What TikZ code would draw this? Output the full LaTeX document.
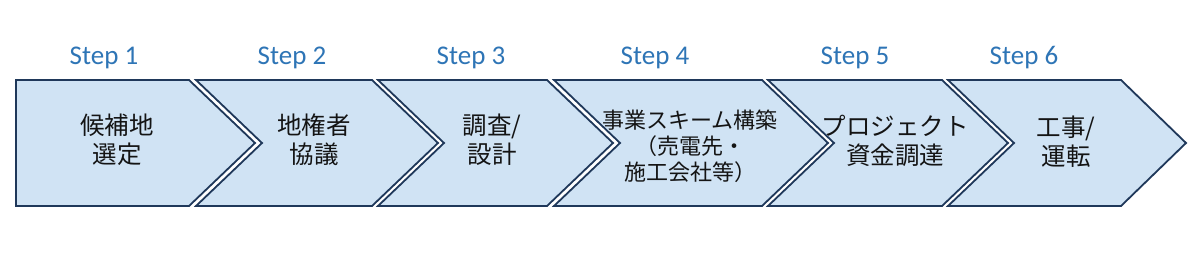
\documentclass[tikz,border=0pt]{standalone}
\usepackage{fontspec}
\newfontfamily\stepfont{Carlito}
\newfontfamily\jpfont{Noto Sans CJK JP}
\definecolor{chfill}{RGB}{208,227,244}
\definecolor{chline}{RGB}{31,56,90}
\definecolor{stepblue}{RGB}{46,117,182}
\definecolor{jptext}{RGB}{20,20,20}
\tikzset{
  chevronbox/.style={fill=chfill, draw=chline, line width=1.8pt, line join=miter},
  steplabel/.style={anchor=base, inner sep=0pt, text=stepblue, font=\stepfont\fontsize{27}{31}\selectfont},
  jplabel/.style={anchor=center, inner sep=0pt, align=center, text=jptext, font=\jpfont\fontsize{24.5}{29}\selectfont},
  jpsmall/.style={anchor=center, inner sep=0pt, align=center, text=jptext, font=\jpfont\fontsize{22}{26}\selectfont},
}
\begin{document}
\begin{tikzpicture}[x=1pt,y=-1pt]
\useasboundingbox (0,0) rectangle (1200,280);
\fill[white] (0,0) rectangle (1200,280);
% chevrons
\draw[chevronbox] (16,80) -- (189,80) -- (255,143) -- (189,206) -- (16,206) -- cycle;
\draw[chevronbox] (196,80) -- (372,80) -- (438,143) -- (372,206) -- (196,206) -- (262,143) -- cycle;
\draw[chevronbox] (378,80) -- (547,80) -- (613,143) -- (547,206) -- (378,206) -- (444,143) -- cycle;
\draw[chevronbox] (554,80) -- (762,80) -- (828,143) -- (762,206) -- (554,206) -- (620,143) -- cycle;
\draw[chevronbox] (768,80) -- (942,80) -- (1008,143) -- (942,206) -- (768,206) -- (834,143) -- cycle;
\draw[chevronbox] (948,80) -- (1121,80) -- (1186,143) -- (1121,206) -- (948,206) -- (1014,143) -- cycle;
% step labels
\node[steplabel] (s1) at (104,64.5) {Step 1};
\node[steplabel] (s2) at (292,64.5) {Step 2};
\node[steplabel] (s3) at (471,64.5) {Step 3};
\node[steplabel] (s4) at (655,64.5) {Step 4};
\node[steplabel] (s5) at (855,64.5) {Step 5};
\node[steplabel] (s6) at (1024,64.5) {Step 6};
% texts
\node[jplabel] (t1) at (117,140) {候補地\\選定};
\node[jplabel] (t2) at (314,140) {地権者\\協議};
\node[jplabel] (t3) at (492,140) {調査/\\設計};
\node[jpsmall] (t4) at (690,146) {事業スキーム構築\\（売電先・\\施工会社等）};
\node[jplabel] (t5) at (895,141) {プロジェクト\\資金調達};
\node[jplabel] (t6) at (1066,142) {工事/\\運転};
\end{tikzpicture}
\end{document}
